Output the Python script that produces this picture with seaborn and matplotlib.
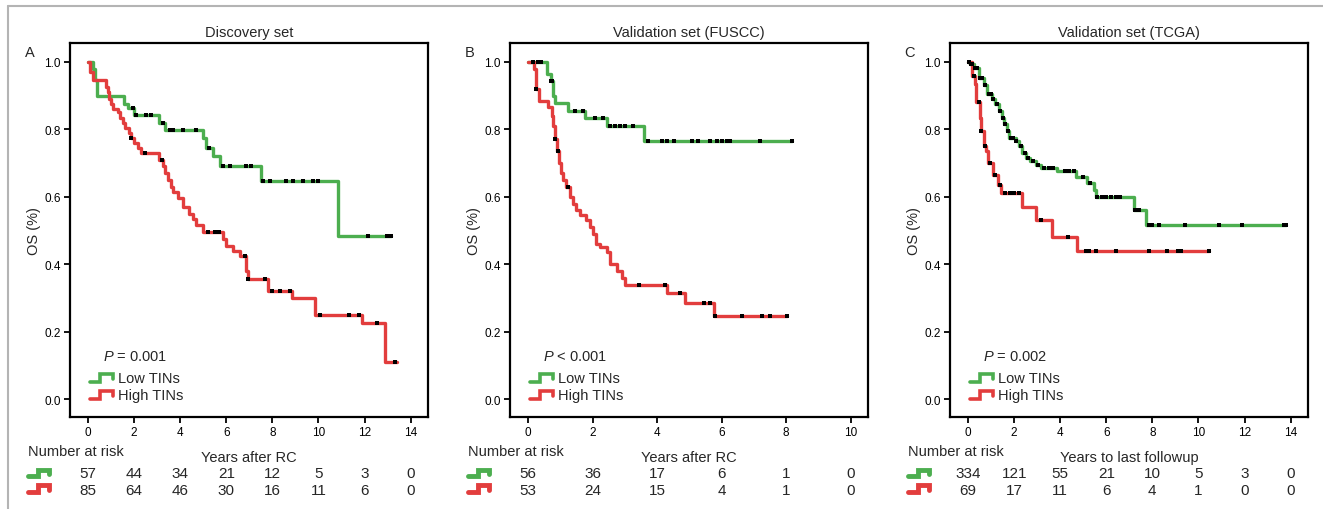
# Kaplan-Meier OS curves for low / high TINs in three cohorts,
# with number-at-risk tables under each panel.
import numpy as np
import matplotlib
matplotlib.use('Agg')
import matplotlib.pyplot as plt
from matplotlib.lines import Line2D
import seaborn as sns

# ---- data ----
# Panel A: discovery set
a_low_t = [0, 0.2, 0.3, 0.4, 1.54, 1.72, 2.01, 3.10, 3.32, 4.99, 5.13, 5.42, 5.71, 7.52, 10.86]
a_low_s = [1.0, 0.98, 0.945, 0.90, 0.876, 0.862, 0.842, 0.82, 0.797, 0.773, 0.746, 0.72, 0.69, 0.646, 0.484]
a_low_end = 13.17
a_low_cens = [1.94, 2.09, 2.52, 2.74, 3.25, 3.54, 3.68, 4.12, 4.7, 5.25, 5.86, 6.14, 6.87, 7.09,
              7.59, 7.88, 8.61, 8.9, 9.33, 9.77, 9.99, 12.16, 12.96, 13.17]
a_high_t = [0, 0.08, 0.22, 0.78, 0.87, 0.93, 0.98, 1.07, 1.3, 1.4, 1.5, 1.62, 1.77, 1.87, 2.01,
            2.16, 2.3, 3.1, 3.25, 3.32, 3.46, 3.61, 3.68, 3.9, 4.12, 4.4, 4.55, 4.7, 4.99, 5.86,
            6.0, 6.3, 6.58, 6.86, 6.94, 7.82, 8.84, 9.86, 11.88, 12.9]
a_high_s = [1.0, 0.97, 0.945, 0.925, 0.91, 0.89, 0.875, 0.86, 0.85, 0.835, 0.82, 0.805, 0.79, 0.775,
            0.76, 0.745, 0.73, 0.71, 0.69, 0.67, 0.65, 0.63, 0.615, 0.595, 0.57, 0.55, 0.535, 0.515,
            0.495, 0.475, 0.455, 0.44, 0.425, 0.38, 0.355, 0.32, 0.30, 0.25, 0.225, 0.11]
a_high_end = 13.4
a_high_cens = [1.87, 2.45, 3.2, 5.2, 5.5, 5.7, 6.8, 6.95, 7.68, 7.97, 8.33, 8.77, 10.07, 11.31,
               11.74, 12.54, 13.34]

# Panel B: validation set (FUSCC)
b_low_t = [0, 0.59, 0.7, 0.78, 0.85, 1.24, 1.76, 2.44, 3.58]
b_low_s = [1.0, 0.963, 0.943, 0.898, 0.878, 0.854, 0.834, 0.81, 0.766]
b_low_end = 8.19
b_low_cens = [0.16, 0.31, 0.41, 0.70, 0.75, 1.45, 1.71, 2.07, 2.33, 2.54, 2.69, 2.85, 3.0, 3.26,
              3.73, 4.15, 4.3, 4.51, 5.08, 5.28, 5.63, 5.85, 6.01, 6.17, 6.27, 7.2, 8.19]
b_high_t = [0, 0.18, 0.26, 0.33, 0.62, 0.73, 0.78, 0.83, 0.9, 0.96, 1.02, 1.09, 1.19, 1.3, 1.4,
            1.5, 1.6, 1.81, 1.92, 2.02, 2.12, 2.23, 2.44, 2.54, 2.75, 2.9, 3.0, 4.3, 4.87, 5.75]
b_high_s = [1.0, 0.98, 0.92, 0.885, 0.865, 0.84, 0.81, 0.77, 0.735, 0.70, 0.67, 0.65, 0.63, 0.60,
            0.58, 0.56, 0.545, 0.53, 0.51, 0.49, 0.46, 0.45, 0.435, 0.40, 0.38, 0.36, 0.338,
            0.316, 0.286, 0.247]
b_high_end = 8.03
b_high_cens = [0.26, 0.83, 0.93, 1.24, 3.45, 4.25, 4.72, 5.44, 5.65, 5.8, 6.63, 7.25, 7.51, 8.03]

# Panel C: validation set (TCGA)
c_low_t = [0, 0.1, 0.25, 0.46, 0.68, 0.83, 1.04, 1.19, 1.34, 1.48, 1.58, 1.67, 1.77, 2.06, 2.21,
           2.35, 2.5, 2.71, 2.93, 3.15, 3.88, 4.67, 5.18, 5.47, 5.54, 7.21, 7.72]
c_low_s = [1.0, 0.993, 0.983, 0.953, 0.93, 0.905, 0.89, 0.875, 0.855, 0.835, 0.815, 0.795, 0.775,
           0.765, 0.75, 0.73, 0.715, 0.705, 0.695, 0.685, 0.675, 0.66, 0.64, 0.62, 0.60, 0.562, 0.515]
c_low_end = 13.82
c_low_cens = [0.05, 0.12, 0.18, 0.3, 0.38, 0.52, 0.6, 0.75, 0.9, 0.98, 1.1, 1.25, 1.4, 1.53, 1.62,
              1.72, 1.85, 1.95, 2.1, 2.3, 2.45, 2.6, 2.8, 3.05, 3.3, 3.5, 3.7, 4.2, 4.4, 4.6,
              5.0, 5.3, 5.6, 5.8, 6.0, 6.2, 6.4, 6.6, 7.25, 7.4, 7.85, 8.0, 8.3, 9.4, 10.9,
              11.9, 13.7, 13.82]
c_high_t = [0, 0.15, 0.29, 0.36, 0.51, 0.58, 0.68, 0.77, 0.87, 1.09, 1.31, 1.45, 2.35, 2.93, 3.66, 4.75]
c_high_s = [1.0, 0.958, 0.934, 0.88, 0.835, 0.795, 0.75, 0.735, 0.70, 0.665, 0.635, 0.61, 0.57,
            0.53, 0.482, 0.44]
c_high_end = 10.48
c_high_cens = [0.25, 0.46, 0.58, 0.75, 0.96, 1.19, 1.4, 1.6, 1.8, 2.0, 2.2, 3.15, 4.34, 5.1, 5.25,
               5.54, 6.4, 7.87, 8.63, 9.1, 9.25, 10.48]

# number at risk
a_risk_low = [57, 44, 34, 21, 12, 5, 3, 0]
a_risk_high = [85, 64, 46, 30, 16, 11, 6, 0]
b_risk_low = [56, 36, 17, 6, 1, 0]
b_risk_high = [53, 24, 15, 4, 1, 0]
c_risk_low = [334, 121, 55, 21, 10, 5, 3, 0]
c_risk_high = [69, 17, 11, 6, 4, 1, 0, 0]

titles = ['Discovery set', 'Validation set (FUSCC)', 'Validation set (TCGA)']
panel_tags = ['A', 'B', 'C']
xlabels = ['Years after RC', 'Years after RC', 'Years to last followup']
pvals = ['= 0.001', '< 0.001', '= 0.002']
xmax = [14, 10, 14]

GREEN = '#4cae4f'
RED = '#e23d3d'

sns.set_style('white')
plt.rcParams['font.family'] = ['Liberation Sans', 'DejaVu Sans']
plt.rcParams['mathtext.fontset'] = 'custom'
plt.rcParams['mathtext.it'] = 'Liberation Sans:italic'
plt.rcParams['mathtext.rm'] = 'Liberation Sans'


def step_value(times, surv, c):
    i = np.searchsorted(times, c, side='right') - 1
    return np.asarray(surv)[i]


def km_curve(ax, times, surv, end, cens, color):
    x = list(times) + [end]
    y = list(surv) + [surv[-1]]
    sns.lineplot(x=x, y=y, ax=ax, drawstyle='steps-post', estimator=None, sort=False,
                 color=color, lw=2.4, zorder=2)
    cy = [step_value(times, surv, c) for c in cens]
    sns.scatterplot(x=cens, y=cy, ax=ax, marker='s', s=5, color='black',
                    linewidth=0, zorder=3)


def step_icon(ax, x0, x1, yc, h, color, lw):
    # little step-shaped symbol for legend / risk table
    xs = [x0, x0 + 0.45 * (x1 - x0), x0 + 0.45 * (x1 - x0), x1, x1]
    ys = [yc - h / 2, yc - h / 2, yc + h / 2, yc + h / 2, yc - h / 6]
    ax.add_line(Line2D(xs, ys, transform=ax.transAxes, color=color, lw=lw,
                       clip_on=False, solid_joinstyle='miter'))


fig = plt.figure(figsize=(13.23, 5.10), dpi=100)
lefts = [70, 510, 950]
curves = [
    (a_low_t, a_low_s, a_low_end, a_low_cens, a_high_t, a_high_s, a_high_end, a_high_cens),
    (b_low_t, b_low_s, b_low_end, b_low_cens, b_high_t, b_high_s, b_high_end, b_high_cens),
    (c_low_t, c_low_s, c_low_end, c_low_cens, c_high_t, c_high_s, c_high_end, c_high_cens),
]
risks = [(a_risk_low, a_risk_high), (b_risk_low, b_risk_high), (c_risk_low, c_risk_high)]

for k in range(3):
    ax = fig.add_axes([lefts[k] / 1323, 92 / 510, 358 / 1323, 374 / 510])
    lt, ls, le, lc, ht, hs, he, hc = curves[k]
    km_curve(ax, lt, ls, le, lc, GREEN)
    km_curve(ax, ht, hs, he, hc, RED)

    span = xmax[k]
    ax.set_xlim(-0.056 * span - 0.0, span * 1.054)
    ax.set_ylim(-0.053, 1.056)
    ax.set_xticks(np.arange(0, span + 1, 2))
    ax.set_yticks(np.arange(0, 1.01, 0.2))
    ax.set_yticklabels([f'{v:.1f}' for v in np.arange(0, 1.01, 0.2)])
    ax.tick_params(axis='both', direction='out', length=4, width=1.3, labelsize=8.5,
                   pad=2.5, colors='black', left=True, bottom=True)
    for sp in ax.spines.values():
        sp.set_linewidth(1.6)
        sp.set_color('black')

    ax.set_title(titles[k], fontsize=10.5, pad=5)
    ax.set_xlabel(xlabels[k], fontsize=10.5)
    ax.xaxis.set_label_coords(0.5, -0.088)
    ax.set_ylabel('OS (%)', fontsize=10.5)
    ax.yaxis.set_label_coords(-0.082, 0.5)
    ax.text(-0.112, 0.976, panel_tags[k], transform=ax.transAxes, fontsize=10.5,
            ha='center', va='center')

    # legend block
    ax.text(0.092, 0.163, '$P$ ' + pvals[k], transform=ax.transAxes, fontsize=10.5,
            ha='left', va='center')
    step_icon(ax, 0.056, 0.12, 0.104, 0.022, GREEN, 2.6)
    step_icon(ax, 0.056, 0.12, 0.059, 0.022, RED, 2.6)
    ax.text(0.134, 0.104, 'Low TINs', transform=ax.transAxes, fontsize=10.5, va='center')
    ax.text(0.134, 0.059, 'High TINs', transform=ax.transAxes, fontsize=10.5, va='center')

    # number at risk table
    ax.text(-0.117, -0.091, 'Number at risk', transform=ax.transAxes, fontsize=10.5,
            ha='left', va='center')
    trans = ax.get_xaxis_transform()
    ticks = np.arange(0, span + 1, 2)
    low, high = risks[k]
    for xv, n1, n2 in zip(ticks, low, high):
        ax.text(xv, -0.150, str(n1), transform=trans, fontsize=11, ha='center', va='center')
        ax.text(xv, -0.195, str(n2), transform=trans, fontsize=11, ha='center', va='center')
    step_icon(ax, -0.117, -0.058, -0.150, 0.018, GREEN, 3.5)
    step_icon(ax, -0.117, -0.058, -0.192, 0.018, RED, 3.5)

# light grey frame on top and left
fig.add_artist(Line2D([8 / 1323, 1.0], [1 - 7 / 510, 1 - 7 / 510], transform=fig.transFigure,
                      color='#b4b4b4', lw=1.5))
fig.add_artist(Line2D([8 / 1323, 8 / 1323], [0, 1 - 7 / 510], transform=fig.transFigure,
                      color='#b4b4b4', lw=1.5))

fig.savefig('out.png', dpi=100)
